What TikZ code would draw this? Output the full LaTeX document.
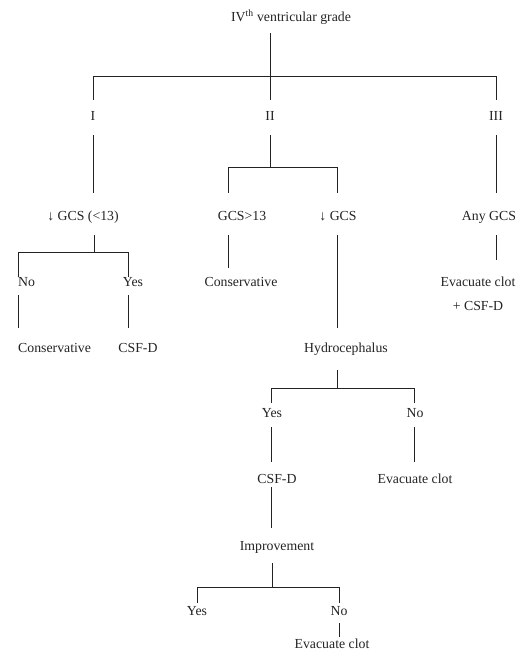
\documentclass[tikz,border=0pt]{standalone}
\usepackage{fontspec}
\setmainfont{Liberation Serif}
\definecolor{inkdark}{RGB}{35, 35, 35}
\tikzset{
    lbl/.style ={font=\fontsize{13.8}{16}\selectfont, inner sep=0pt,
                 text height=9.5pt, text depth=2.5pt, text=inkdark},
    lblw/.style={lbl, anchor=west},
    ln/.style  ={line width=0.8pt, draw=inkdark}
}

\begin{document}
\begin{tikzpicture}[x=1pt, y=-1pt]
  \useasboundingbox (0,0) rectangle (519,651);

  % labels
  \node[lbl]  (top)    at (291,18)  {IV\textsuperscript{th} ventricular grade};
  \node[lbl]  (gI)     at (93,117)  {I};
  \node[lbl]  (gII)    at (270,117) {II};
  \node[lbl]  (gIII)   at (496,117) {III};
  \node[lbl]  (lowI)   at (83,217)  {↓ GCS (<13)};
  \node[lbl]  (hiII)   at (242,217) {GCS>13};
  \node[lbl]  (lowII)  at (338,217) {↓ GCS};
  \node[lbl]  (anyIII) at (489,217) {Any GCS};
  \node[lblw] (noI)    at (18,283)  {No};
  \node[lbl]  (yesI)   at (133,283) {Yes};
  \node[lbl]  (consII) at (241,283) {Conservative};
  \node[lbl]  (evacIII) at (478,283) {Evacuate clot};
  \node[lbl]  (plusIII) at (478,307) {+ CSF-D};
  \node[lblw] (consI)  at (18,349)  {Conservative};
  \node[lbl]  (csfI)   at (138,349) {CSF-D};
  \node[lbl]  (hydro)  at (346,349) {Hydrocephalus};
  \node[lbl]  (yesH)   at (272,414) {Yes};
  \node[lbl]  (noH)    at (415,414) {No};
  \node[lbl]  (csfH)   at (277,480) {CSF-D};
  \node[lbl]  (evacH)  at (415,480) {Evacuate clot};
  \node[lbl]  (impr)   at (277,547) {Improvement};
  \node[lbl]  (yesM)   at (197,612) {Yes};
  \node[lbl]  (noM)    at (339,612) {No};
  \node[lbl]  (evacM)  at (332,645) {Evacuate clot};

  % bracket corners
  \coordinate (b0)  at (270,76);
  \coordinate (b1)  at (270,167);
  \coordinate (b1l) at (228,167);
  \coordinate (b1r) at (337,167);
  \coordinate (b2)  at (94,252);
  \coordinate (b2l) at (18,252);
  \coordinate (b2r) at (128,252);
  \coordinate (b3)  at (337,388);
  \coordinate (b3l) at (271,388);
  \coordinate (b3r) at (414,388);
  \coordinate (b4)  at (272,587);
  \coordinate (b4l) at (197,587);
  \coordinate (b4r) at (339,587);

  % grade split
  \draw[ln, shorten <=9pt, shorten >=11pt] (top.south -| gII.north) -- (gII.north);
  \draw[ln, shorten <=11pt, shorten >=11pt] (gI.north) -- (gI.north |- b0)
        -- (gIII.north |- b0) -- (gIII.north);

  % grade I
  \draw[ln, shorten <=12pt, shorten >=18pt] (gI.south) -- (gI.south |- lowI.north);
  \draw[ln, shorten <=12pt] (b2 |- lowI.south) -- (b2);
  \draw[ln] (b2l |- noI.north) -- (b2l) -- (b2r) -- (b2r |- yesI.north);
  \draw[ln, shorten <=6pt, shorten >=15pt] (b2l |- noI.south) -- (b2l |- consI.north);
  \draw[ln, shorten <=6pt, shorten >=15pt] (b2r |- yesI.south) -- (b2r |- csfI.north);

  % grade II
  \draw[ln, shorten <=12pt] (gII.south) -- (b1);
  \draw[ln, shorten <=18pt, shorten >=18pt] (b1l |- hiII.north) -- (b1l) -- (b1r)
        -- (b1r |- lowII.north);
  \draw[ln, shorten <=12pt, shorten >=9pt] (b1l |- hiII.south) -- (b1l |- consII.north);
  \draw[ln, shorten <=12pt, shorten >=15pt] (b1r |- lowII.south) -- (b1r |- hydro.north);

  % hydrocephalus
  \draw[ln, shorten <=15pt] (b3 |- hydro.south) -- (b3);
  \draw[ln, shorten <=5pt, shorten >=5pt] (b3l |- yesH.north) -- (b3l) -- (b3r)
        -- (b3r |- noH.north);
  \draw[ln, shorten <=7pt, shorten >=12pt] (b3l |- yesH.south) -- (b3l |- csfH.north);
  \draw[ln, shorten <=7pt, shorten >=12pt] (b3r |- noH.south) -- (b3r |- evacH.north);
  \draw[ln, shorten <=1pt, shorten >=13pt] (b3l |- csfH.south) -- (b3l |- impr.north);

  % improvement
  \draw[ln, shorten <=10pt] (b4 |- impr.south) -- (b4);
  \draw[ln, shorten <=3pt, shorten >=3pt] (b4l |- yesM.north) -- (b4l) -- (b4r)
        -- (b4r |- noM.north);
  \draw[ln, shorten <=5pt, shorten >=2pt] (b4r |- noM.south) -- (b4r |- evacM.north);

  % grade III
  \draw[ln, shorten <=12pt, shorten >=18pt] (gIII.south) -- (gIII.south |- anyIII.north);
  \draw[ln, shorten <=12pt, shorten >=17pt] (gIII.south |- anyIII.south)
        -- (gIII.south |- evacIII.north);
\end{tikzpicture}
\end{document}
